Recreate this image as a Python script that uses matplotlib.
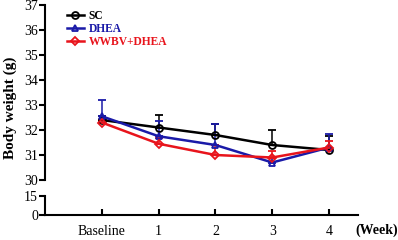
import matplotlib
matplotlib.use("Agg")
import matplotlib.pyplot as plt
from matplotlib.lines import Line2D

plt.rcParams['font.family'] = ['Liberation Serif', 'DejaVu Serif']

weeks = ["Baseline", "1", "2", "3", "4"]
sc = [32.4, 32.1, 31.8, 31.4, 31.2]
sc_err = [0.15, 0.5, 0.45, 0.6, 0.55]
dhea = [32.55, 31.75, 31.4, 30.7, 31.3]
dhea_err = [0.65, 0.6, 0.85, 0.2, 0.55]
wwbv = [32.3, 31.45, 31.0, 30.9, 31.3]
wwbv_err = [0.1, 0.25, 0.4, 0.25, 0.25]

series = [
    ("SC", sc, sc_err, "black", "o"),
    ("DHEA", dhea, dhea_err, "#1a1aa8", "^"),
    ("WWBV+DHEA", wwbv, wwbv_err, "#e8141c", "D"),
]

W, H = 398, 240
fig = plt.figure(figsize=(W / 100, H / 100), dpi=100)
left, right = 45 / W, 358 / W
ax = fig.add_axes([left, 1 - 180 / H, right - left, 175 / H])
axb = fig.add_axes([left, 1 - 215 / H, right - left, 19 / H])

x = list(range(len(weeks)))
handles = []
for name, vals, err, col, mk in series:
    ms = 5 if mk != "D" else 4
    ax.errorbar(x, vals, yerr=[[0] * len(err), err], color=col, lw=1.8,
                marker=mk, ms=ms, mfc="none", mew=1.3, capsize=3,
                elinewidth=1.1, capthick=1.1)
    handles.append(Line2D([], [], color=col, lw=1.8, marker=mk, ms=ms,
                          mfc="none", mew=1.3, label=name))

for a in (ax, axb):
    a.set_xlim(-1.0, 4.51)
    for s in ("top", "right"):
        a.spines[s].set_visible(False)
    a.spines["left"].set_linewidth(1.5)
    a.tick_params(axis="y", direction="out", width=1.5, length=4,
                  labelsize=10, pad=1)

ax.set_ylim(30, 37)
ax.set_yticks(range(30, 38))
ax.spines["bottom"].set_visible(False)
ax.set_xticks([])

axb.set_ylim(0, 15)
axb.set_yticks([0, 15])
axb.spines["bottom"].set_linewidth(1.5)
axb.set_xticks(x)
axb.set_xticklabels(weeks)
axb.tick_params(axis="x", direction="in", width=1.5, length=4,
                labelsize=10, pad=7)

fig.text(10 / W, 1 - 108 / H, "Body weight (g)", rotation=90,
         ha="center", va="center", fontsize=11, fontweight="bold")
fig.text(377 / W, 1 - 230 / H, "(Week)", ha="center", va="center",
         fontsize=10, fontweight="bold")

leg = ax.legend(handles=handles, loc="upper left", bbox_to_anchor=(0.055, 1.0),
                frameon=False, fontsize=8.3, handlelength=1.5,
                handletextpad=0.4, labelspacing=0.12, borderaxespad=0)
for t, (_, _, _, col, _) in zip(leg.get_texts(), series):
    t.set_color(col)
    t.set_fontweight("bold")

fig.savefig("out.png", dpi=100)
